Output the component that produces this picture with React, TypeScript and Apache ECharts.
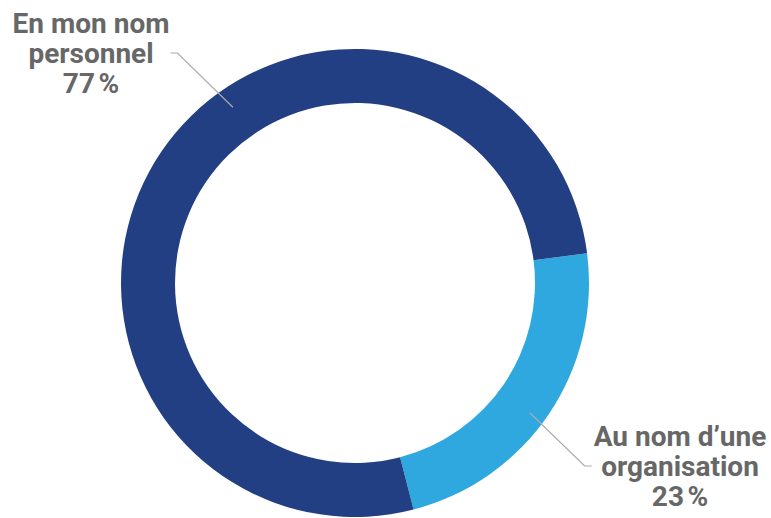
import React, { useEffect, useRef } from "react";
import * as echarts from "echarts";

// Répartition des comptes : au nom d'une organisation / en mon nom personnel
const categories = ["Au nom d\u2019une\norganisation", "En mon nom\npersonnel"];
const shares = [23, 77];
const colors = ["#2EA8DE", "#233F83"];

const W = 771;
const H = 518;
const CX = 355;
const CY = 283;
const R_IN = 180;
const R_OUT = 234;
const START = 7.3;

// Label blocks (centre of the middle line) and leader anchors inside the ring
const labelSpots = [
  { x: 680, y: 466, anchorDeg: -36.6, anchorR: 218, side: "left" },
  { x: 91, y: 53, anchorDeg: 124.8, anchorR: 214, side: "right" },
];

export default function App() {
  const ref = useRef<HTMLDivElement>(null);

  useEffect(() => {
    document.body.style.margin = "0";
    if (!ref.current) return;
    const chart = echarts.init(ref.current, undefined, { renderer: "svg" });

    const data = categories.map((name, i) => ({
      name,
      value: shares[i],
      itemStyle: { color: colors[i] },
    }));

    chart.setOption({
      animation: false,
      backgroundColor: "#ffffff",
      series: [
        // the ring itself
        {
          type: "pie",
          center: [CX, CY],
          radius: [R_IN, R_OUT],
          startAngle: START,
          clockwise: true,
          silent: true,
          itemStyle: { borderWidth: 0 },
          label: { show: false },
          labelLine: { show: false },
          data,
        },
        // transparent copy on top, carrying the labels and leader lines
        {
          type: "pie",
          z: 5,
          center: [CX, CY],
          radius: [R_IN, R_OUT],
          startAngle: START,
          clockwise: true,
          silent: true,
          avoidLabelOverlap: false,
          itemStyle: { color: "rgba(0,0,0,0)", borderWidth: 0 },
          data: data.map((d) => ({ name: d.name, value: d.value })),
          label: {
            show: true,
            position: "outside",
            formatter: (p: any) => `${p.name}\n${p.value}\u202F%`,
            color: "#676767",
            fontFamily: "Roboto, 'Noto Sans', sans-serif",
            fontWeight: "bold",
            fontSize: 28,
            lineHeight: 30,
            align: "center",
          },
          labelLine: {
            show: true,
            lineStyle: { color: "#ABABAB", width: 1.2 },
          },
          labelLayout: (params: any) => {
            const s = labelSpots[params.dataIndex];
            const w = params.labelRect.width;
            const rad = (s.anchorDeg * Math.PI) / 180;
            const ax = CX + s.anchorR * Math.cos(rad);
            const ay = CY - s.anchorR * Math.sin(rad);
            const edge = s.side === "right" ? s.x + w / 2 + 1 : s.x - w / 2 - 2;
            const knee = s.side === "right" ? edge + 7 : edge - 7;
            return {
              x: s.x,
              y: s.y,
              align: "center",
              verticalAlign: "middle",
              labelLinePoints: [
                [ax, ay],
                [knee, s.y],
                [edge, s.y],
              ],
            };
          },
        },
      ],
    });

    return () => chart.dispose();
  }, []);

  return <div ref={ref} style={{ width: W, height: H }} />;
}
